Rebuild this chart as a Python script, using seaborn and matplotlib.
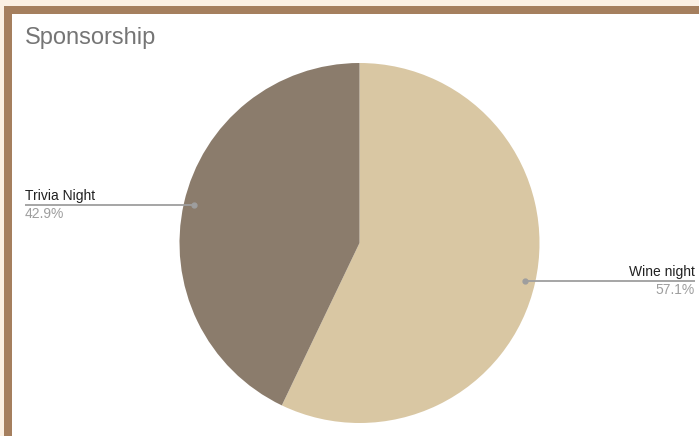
import numpy as np
import matplotlib
matplotlib.use("Agg")
import matplotlib.pyplot as plt
from matplotlib.patches import Rectangle
import seaborn as sns

# Chart data
title = "Sponsorship"
categories = ["Wine night", "Trivia Night"]
values = [57.1, 42.9]
slice_colors = ["#d9c7a3", "#8b7c6c"]

sns.set_theme(style="white")
plt.rcParams["font.family"] = ["Liberation Sans", "DejaVu Sans"]

W, H = 699, 436
fig = plt.figure(figsize=(W / 100, H / 100), dpi=100)
fig.patch.set_facecolor("white")

# Background layer in pixel coordinates (y down)
bg = fig.add_axes([0, 0, 1, 1], zorder=0)
bg.set_xlim(0, W)
bg.set_ylim(H, 0)
bg.axis("off")
bg.add_patch(Rectangle((0, 0), W, H, color="#fbf0e3", lw=0))
bg.add_patch(Rectangle((4, 6), W - 4, H - 6, color="#a57f5e", lw=0))
bg.add_patch(Rectangle((12, 14), W - 12, H - 14, color="white", lw=0))
bg.text(25, 44, title, fontsize=17, color="#757575", va="baseline", ha="left")

# Pie axes: centre (359.5, 243) px, radius 180 px
cx, cy, r = 359.5, 243.0, 180.0
ax = fig.add_axes([(cx - r) / W, (H - cy - r) / H, 2 * r / W, 2 * r / H], zorder=1)
ax.set_xlim(-1, 1)
ax.set_ylim(-1, 1)
ax.axis("off")

wedges, _ = ax.pie(values, colors=slice_colors, startangle=90, counterclock=False,
                   radius=1.0, wedgeprops=dict(linewidth=0), center=(0, 0))
ax.set_xlim(-1, 1)
ax.set_ylim(-1, 1)
ax.set_aspect("equal")

# Leader lines and labels
label_edges_px = {"Wine night": 695, "Trivia Night": 25}
for w, name, val in zip(wedges, categories, values):
    mid = np.deg2rad((w.theta1 + w.theta2) / 2)
    dx, dy = 0.945 * np.cos(mid), 0.945 * np.sin(mid)
    edge = (label_edges_px[name] - cx) / r
    ax.plot([dx, edge], [dy, dy], color="#9e9e9e", lw=1.3, clip_on=False, solid_capstyle="butt")
    ax.plot([dx], [dy], "o", color="#9e9e9e", ms=3.5, clip_on=False)
    ypx = cy - dy * r
    ha = "left" if edge < 0 else "right"
    bg.text(label_edges_px[name], ypx - 5, name, fontsize=10, color="#212121",
            ha=ha, va="baseline")
    bg.text(label_edges_px[name], ypx + 13, f"{val:.1f}%", fontsize=10, color="#9e9e9e",
            ha=ha, va="baseline")

fig.savefig("out.png", dpi=100)
